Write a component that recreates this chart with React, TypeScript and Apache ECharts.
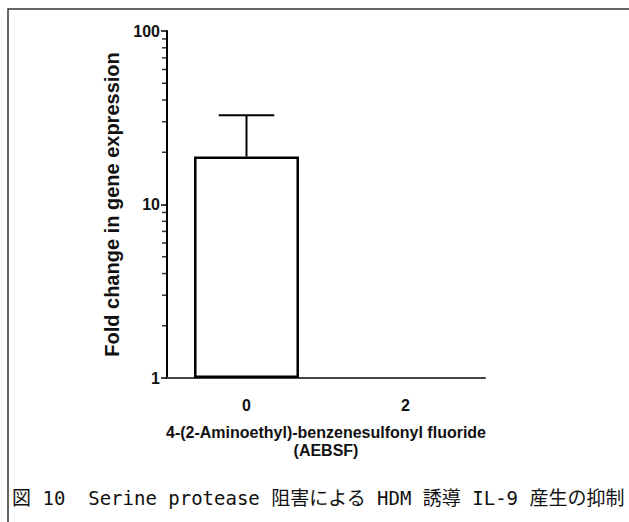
import React, { useEffect, useRef } from "react";
import * as echarts from "echarts";

const categories = ["0", "2"];
const meanValues: (number | null)[] = [18.9, null];
const upperErrors: (number | null)[] = [32.7, null];
const minorTickValues = [2, 3, 4, 5, 6, 7, 8, 9, 20, 30, 40, 50, 60, 70, 80, 90];
const yAxisTitle = "Fold change in gene expression";
const xAxisTitle = "4-(2-Aminoethyl)-benzenesulfonyl fluoride\n(AEBSF)";
const caption = "図 10  Serine protease 阻害による HDM 誘導 IL-9 産生の抑制";

const FONT = "'Liberation Sans', Arial, sans-serif";

export default function App() {
  const ref = useRef<HTMLDivElement>(null);
  useEffect(() => {
    if (!ref.current) return;
    const chart = echarts.init(ref.current, undefined, { renderer: "svg" });
    const errData = meanValues
      .map((m, i) => (m != null && upperErrors[i] != null ? [i, m, upperErrors[i]] : null))
      .filter((d) => d !== null);
    const minorData = minorTickValues.map((v) => [0, v]);
    chart.setOption({
      animation: false,
      backgroundColor: "#fff",
      grid: { left: 167, top: 31, width: 318, height: 347 },
      xAxis: [
        {
          type: "category",
          data: categories,
          axisLine: { lineStyle: { color: "#444", width: 2 } },
          axisTick: { alignWithLabel: true, length: 6, lineStyle: { color: "#222", width: 2 } },
          axisLabel: { color: "#111", fontFamily: FONT, fontWeight: "bold", fontSize: 16, margin: 19 },
          name: xAxisTitle,
          nameLocation: "middle",
          nameGap: 45,
          nameTextStyle: { color: "#111", fontFamily: FONT, fontWeight: "bold", fontSize: 16, lineHeight: 18 },
        },
        { type: "value", min: 0, max: 1, show: false },
      ],
      yAxis: {
        type: "log",
        logBase: 10,
        min: 1,
        max: 100,
        axisLine: { show: true, lineStyle: { color: "#000", width: 2 } },
        axisTick: { show: true, length: 6, lineStyle: { color: "#000", width: 1.5 } },
        splitLine: { show: false },
        axisLabel: { color: "#111", fontFamily: FONT, fontWeight: "bold", fontSize: 16, margin: 7 },
        name: yAxisTitle,
        nameLocation: "middle",
        nameGap: 43,
        nameTextStyle: { color: "#111", fontFamily: FONT, fontWeight: "bold", fontSize: 20 },
      },
      series: [
        {
          type: "bar",
          data: meanValues,
          barWidth: "66%",
          itemStyle: { color: "#fff", borderColor: "#000", borderWidth: 2.5 },
        },
        {
          type: "custom",
          data: errData,
          clip: false,
          encode: { x: 0, y: [1, 2] },
          renderItem: (params: any, api: any) => {
            const idx = api.value(0);
            const lo = api.coord([idx, api.value(1)]);
            const hi = api.coord([idx, api.value(2)]);
            const half = api.size([1, 0])[0] * 0.66 * 0.265;
            return {
              type: "group",
              children: [
                { type: "line", shape: { x1: lo[0], y1: lo[1], x2: hi[0], y2: hi[1] }, style: { stroke: "#000", lineWidth: 2 } },
                { type: "line", shape: { x1: hi[0] - half, y1: hi[1], x2: hi[0] + half, y2: hi[1] }, style: { stroke: "#000", lineWidth: 2 } },
              ],
            };
          },
          z: 3,
        },
        {
          type: "scatter",
          xAxisIndex: 1,
          data: minorData,
          clip: false,
          silent: true,
          symbol: "rect",
          symbolSize: [5, 1.5],
          symbolOffset: [-2.5, 0],
          itemStyle: { color: "#000" },
          z: 5,
        },
      ],
      graphic: [
        { type: "rect", shape: { x: 8, y: 9, width: 1000, height: 1000 }, style: { fill: "none", stroke: "#333", lineWidth: 1.5 } },
        {
          type: "text",
          x: 12,
          y: 498,
          style: {
            text: caption,
            fontSize: 19,
            fontFamily: "'DejaVu Sans Mono', 'Noto Sans CJK JP', monospace",
            fill: "#111",
            verticalAlign: "middle",
          },
        },
      ],
    });
    return () => chart.dispose();
  }, []);
  return <div ref={ref} style={{ position: "absolute", left: 0, top: 0, width: 629, height: 522 }} />;
}
